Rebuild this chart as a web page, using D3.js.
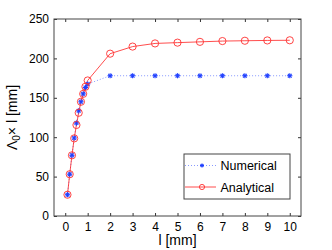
<!DOCTYPE html>
<html>
<head>
<meta charset="utf-8">
<script src="https://d3js.org/d3.v7.min.js"></script>
<style>
  body { margin: 0; background: #fff; }
  text { font-family: "Liberation Sans", Arial, sans-serif; }
</style>
</head>
<body>
<div id="chart"></div>
<script>
// data
const lengths = [0.1, 0.2, 0.3, 0.4, 0.5, 0.6, 0.7, 0.8, 0.9, 1, 2, 3, 4, 5, 6, 7, 8, 9, 10];
const numerical = [27, 53, 77, 99, 118, 133.5, 145, 155, 163, 167.5, 178, 178, 178, 178, 178, 178, 178, 178, 178];
const analytical = [27, 53, 77, 98.5, 115.5, 131, 145, 155, 164, 172, 206, 215, 219, 220, 221, 222, 222.4, 222.8, 223];
const xTicks = [0, 1, 2, 3, 4, 5, 6, 7, 8, 9, 10];
const yTicks = [0, 50, 100, 150, 200, 250];

const width = 332, height = 250;
const margin = {left: 54, right: 31, top: 19, bottom: 34};

const svg = d3.select('#chart').append('svg')
    .attr('width', width)
    .attr('height', height);

const x = d3.scaleLinear().domain([-0.5, 10.5]).range([margin.left, width - margin.right]);
const y = d3.scaleLinear().domain([0, 250]).range([height - margin.bottom, margin.top]);

// axes with inward ticks, mirrored on top and right
const tick = 3;
svg.append('g')
    .attr('transform', `translate(0,${y(0)})`)
    .call(d3.axisBottom(x).tickValues(xTicks).tickSizeInner(-tick).tickSizeOuter(0).tickPadding(6))
    .call(g => g.select('.domain').remove());
svg.append('g')
    .attr('transform', `translate(0,${y(250)})`)
    .call(d3.axisTop(x).tickValues(xTicks).tickSizeInner(-tick).tickSizeOuter(0).tickFormat(''))
    .call(g => g.select('.domain').remove());
svg.append('g')
    .attr('transform', `translate(${x(-0.5)},0)`)
    .call(d3.axisLeft(y).tickValues(yTicks).tickSizeInner(-tick).tickSizeOuter(0).tickPadding(5))
    .call(g => g.select('.domain').remove());
svg.append('g')
    .attr('transform', `translate(${x(10.5)},0)`)
    .call(d3.axisRight(y).tickValues(yTicks).tickSizeInner(-tick).tickSizeOuter(0).tickFormat(''))
    .call(g => g.select('.domain').remove());

svg.selectAll('.tick text').attr('font-size', 12).attr('fill', '#000')
    .attr('font-family', '"Liberation Sans", Arial, sans-serif');
svg.selectAll('.tick line').attr('stroke', '#333');

// box
svg.append('rect')
    .attr('x', x(-0.5)).attr('y', y(250))
    .attr('width', x(10.5) - x(-0.5)).attr('height', y(0) - y(250))
    .attr('fill', 'none').attr('stroke', '#444').attr('stroke-width', 1);

const pts = (vals) => lengths.map((l, i) => [l, vals[i]]);
const line = d3.line().x(d => x(d[0])).y(d => y(d[1]));

// numerical: dotted blue line with asterisks
svg.append('path')
    .attr('d', line(pts(numerical)))
    .attr('fill', 'none').attr('stroke', '#8899ff').attr('stroke-width', 1)
    .attr('stroke-dasharray', '1,2');

// analytical: red line with open circles
svg.append('path')
    .attr('d', line(pts(analytical)))
    .attr('fill', 'none').attr('stroke', '#ff2020').attr('stroke-width', 0.8);

function star(g, cx, cy, r) {
  const s = g.append('g').attr('stroke', '#2040ff').attr('stroke-width', 1.1);
  const d = r * 0.72;
  s.append('line').attr('x1', cx - r).attr('x2', cx + r).attr('y1', cy).attr('y2', cy);
  s.append('line').attr('x1', cx).attr('x2', cx).attr('y1', cy - r).attr('y2', cy + r);
  s.append('line').attr('x1', cx - d).attr('x2', cx + d).attr('y1', cy - d).attr('y2', cy + d);
  s.append('line').attr('x1', cx - d).attr('x2', cx + d).attr('y1', cy + d).attr('y2', cy - d);
}

const marks = svg.append('g');
pts(numerical).forEach(d => star(marks, x(d[0]), y(d[1]), 2.6));

svg.append('g').selectAll('circle')
    .data(pts(analytical))
    .enter()
    .append('circle')
    .attr('cx', d => x(d[0]))
    .attr('cy', d => y(d[1]))
    .attr('r', 3.6)
    .attr('fill', 'none')
    .attr('stroke', '#ff3030')
    .attr('stroke-width', 0.9);

// legend
const lg = svg.append('g');
lg.append('rect')
    .attr('x', 184).attr('y', 154).attr('width', 106).attr('height', 45)
    .attr('fill', '#fff').attr('stroke', '#444').attr('stroke-width', 1);
lg.append('line').attr('x1', 185).attr('x2', 216).attr('y1', 165.5).attr('y2', 165.5)
    .attr('stroke', '#8899ff').attr('stroke-dasharray', '1,2');
star(lg, 202, 165.5, 2);
lg.append('line').attr('x1', 185).attr('x2', 216).attr('y1', 187).attr('y2', 187)
    .attr('stroke', '#ff2020').attr('stroke-width', 0.8);
lg.append('circle').attr('cx', 202).attr('cy', 187).attr('r', 2.6)
    .attr('fill', 'none').attr('stroke', '#ff3030').attr('stroke-width', 0.9);
lg.append('text').attr('x', 220.5).attr('y', 170).attr('font-size', 12.5).text('Numerical');
lg.append('text').attr('x', 220.5).attr('y', 191.5).attr('font-size', 12.5).text('Analytical');

// axis labels
svg.append('text')
    .attr('x', (x(-0.5) + x(10.5)) / 2).attr('y', 245)
    .attr('text-anchor', 'middle').attr('font-size', 14)
    .text('l [mm]');

const yl = svg.append('text')
    .attr('transform', `translate(17,${(y(0) + y(250)) / 2}) rotate(-90)`)
    .attr('text-anchor', 'middle').attr('font-size', 14);
yl.append('tspan').text('Λ');
yl.append('tspan').attr('font-size', 10).attr('dy', 3).text('0');
yl.append('tspan').attr('dy', -3).text('× l [mm]');
</script>
</body>
</html>
